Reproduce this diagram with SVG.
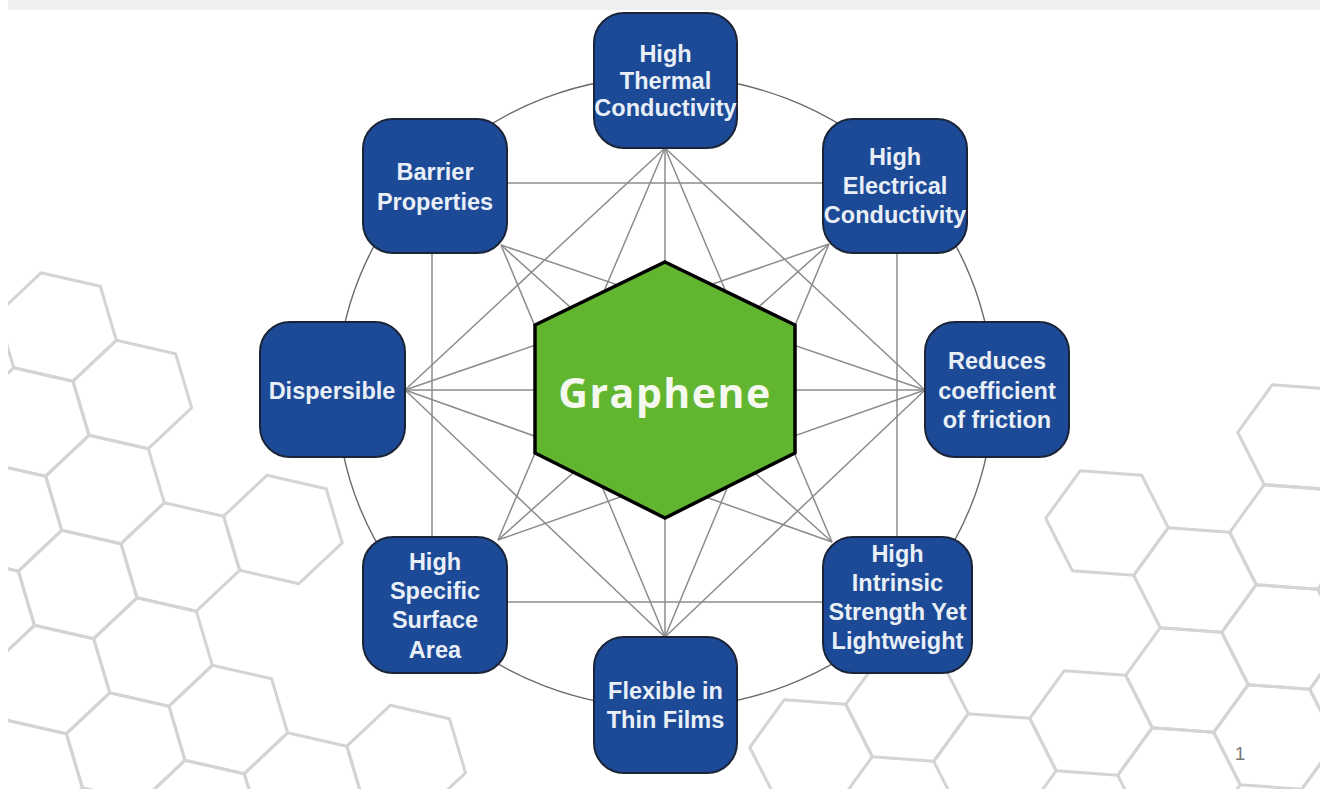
<svg xmlns="http://www.w3.org/2000/svg" xmlns:xlink="http://www.w3.org/1999/xlink" width="1324" height="789" viewBox="0 0 1324 789">
<style>
.bg{fill:none;stroke:#d4d4d4;stroke-width:3;stroke-linejoin:round}
.con{stroke:#8c8c8c;stroke-width:1.5;fill:none}
.ring{stroke:#6a6a6a;stroke-width:1.4;fill:none}
.node{fill:#1c4a96;stroke:#1b2438;stroke-width:2}
.lbl{font-family:"Liberation Sans",Arial,sans-serif;font-weight:700;font-size:23.5px;fill:#e9eff7;text-anchor:middle}
.core{font-family:"Open Sans","DejaVu Sans",sans-serif;font-weight:700;font-size:41px;fill:#f4f8ee;text-anchor:middle;letter-spacing:1.5px}
</style>
<defs>
<path id="hL" d="M16,54.2 L-43.3,40.8 L-59.3,-13.3 L-16,-54.2 L43.3,-40.8 L59.3,13.3 Z"/>
<path id="hR" d="M26.7,52.3 L-34.7,47.7 L-61.3,-4.7 L-26.7,-52.3 L34.7,-47.7 L61.3,4.7 Z"/>
<clipPath id="page"><rect x="8" y="0" width="1312" height="789"/></clipPath>
</defs>
<rect width="1324" height="789" fill="#ffffff"/>
<g id="background-hexagons" class="bg" clip-path="url(#page)">
<use xlink:href="#hL" x="57" y="327"/>
<use xlink:href="#hL" x="132.3" y="394.5"/>
<use xlink:href="#hL" x="29.7" y="422"/>
<use xlink:href="#hL" x="105" y="489.5"/>
<use xlink:href="#hL" x="180.3" y="557"/>
<use xlink:href="#hL" x="282.9" y="529.5"/>
<use xlink:href="#hL" x="77.7" y="584.5"/>
<use xlink:href="#hL" x="153" y="652"/>
<use xlink:href="#hL" x="228.3" y="719.5"/>
<use xlink:href="#hL" x="2.4" y="517"/>
<use xlink:href="#hL" x="50.4" y="679.5"/>
<use xlink:href="#hL" x="-24.9" y="612"/>
<use xlink:href="#hL" x="125.7" y="747"/>
<use xlink:href="#hL" x="23.1" y="774.5"/>
<use xlink:href="#hL" x="201" y="814.5"/>
<use xlink:href="#hL" x="303.6" y="787"/>
<use xlink:href="#hL" x="406.2" y="759.5"/>
<use xlink:href="#hR" x="1107" y="523"/>
<use xlink:href="#hR" x="1195" y="580"/>
<use xlink:href="#hR" x="1187" y="680"/>
<use xlink:href="#hR" x="1091" y="723"/>
<use xlink:href="#hR" x="1291" y="537"/>
<use xlink:href="#hR" x="1299" y="437"/>
<use xlink:href="#hR" x="1283" y="637"/>
<use xlink:href="#hR" x="1275" y="737"/>
<use xlink:href="#hR" x="1179" y="780"/>
<use xlink:href="#hR" x="995" y="766"/>
<use xlink:href="#hR" x="907" y="709"/>
<use xlink:href="#hR" x="811" y="752"/>
<use xlink:href="#hR" x="1371" y="694"/>
<use xlink:href="#hR" x="1363" y="794"/>
</g>
<rect id="top-band" x="8" y="0" width="1312" height="10" fill="#efefef"/>
<g id="connectors">
<ellipse class="ring" cx="665" cy="392" rx="328" ry="316"/>
<line class="con" x1="665" y1="148" x2="925" y2="390"/>
<line class="con" x1="665" y1="148" x2="832" y2="542"/>
<line class="con" x1="665" y1="148" x2="665" y2="637"/>
<line class="con" x1="665" y1="148" x2="498" y2="540"/>
<line class="con" x1="665" y1="148" x2="405" y2="390"/>
<line class="con" x1="897" y1="186" x2="897" y2="605"/>
<line class="con" x1="829" y1="244" x2="665" y2="637"/>
<line class="con" x1="829" y1="244" x2="498" y2="540"/>
<line class="con" x1="829" y1="244" x2="405" y2="390"/>
<line class="con" x1="435" y1="183" x2="895" y2="183"/>
<line class="con" x1="925" y1="390" x2="665" y2="637"/>
<line class="con" x1="925" y1="390" x2="498" y2="540"/>
<line class="con" x1="925" y1="390" x2="405" y2="390"/>
<line class="con" x1="925" y1="390" x2="501" y2="245"/>
<line class="con" x1="435" y1="602" x2="897" y2="602"/>
<line class="con" x1="832" y1="542" x2="405" y2="390"/>
<line class="con" x1="832" y1="542" x2="501" y2="245"/>
<line class="con" x1="665" y1="637" x2="405" y2="390"/>
<line class="con" x1="665" y1="637" x2="501" y2="245"/>
<line class="con" x1="432" y1="186" x2="432" y2="605"/>
</g>
<g id="graphene">
<polygon points="665,262 795,325 795,453 665,518 535,453 535,325" fill="#61b52f" stroke="#000000" stroke-width="3.5" stroke-linejoin="miter"/>
<text class="core" x="665" y="408">Graphene</text>
</g>
<g id="node-thermal">
<rect class="node" x="594" y="13" width="143" height="135" rx="30"/>
<text class="lbl" x="665.5" y="62">High</text>
<text class="lbl" x="665.5" y="89">Thermal</text>
<text class="lbl" x="665.5" y="116">Conductivity</text>
</g>
<g id="node-barrier">
<rect class="node" x="363" y="119" width="144" height="134" rx="30"/>
<text class="lbl" x="435" y="180">Barrier</text>
<text class="lbl" x="435" y="210">Properties</text>
</g>
<g id="node-electrical">
<rect class="node" x="823" y="119" width="144" height="134" rx="30"/>
<text class="lbl" x="895" y="165">High</text>
<text class="lbl" x="895" y="194">Electrical</text>
<text class="lbl" x="895" y="223">Conductivity</text>
</g>
<g id="node-dispersible">
<rect class="node" x="260" y="322" width="145" height="135" rx="30"/>
<text class="lbl" x="332" y="399">Dispersible</text>
</g>
<g id="node-friction">
<rect class="node" x="925" y="322" width="144" height="135" rx="30"/>
<text class="lbl" x="997" y="369">Reduces</text>
<text class="lbl" x="997" y="399">coefficient</text>
<text class="lbl" x="997" y="428">of friction</text>
</g>
<g id="node-surface">
<rect class="node" x="363" y="537" width="144" height="136" rx="30"/>
<text class="lbl" x="435" y="570">High</text>
<text class="lbl" x="435" y="599">Specific</text>
<text class="lbl" x="435" y="628">Surface</text>
<text class="lbl" x="435" y="658">Area</text>
</g>
<g id="node-flexible">
<rect class="node" x="594" y="637" width="143" height="136" rx="30"/>
<text class="lbl" x="665.5" y="699">Flexible in</text>
<text class="lbl" x="665.5" y="728">Thin Films</text>
</g>
<g id="node-strength">
<rect class="node" x="823" y="537" width="149" height="136" rx="30"/>
<text class="lbl" x="897.5" y="562">High</text>
<text class="lbl" x="897.5" y="591">Intrinsic</text>
<text class="lbl" x="897.5" y="620">Strength Yet</text>
<text class="lbl" x="897.5" y="649">Lightweight</text>
</g>
<text id="page-number" x="1240" y="760" font-family="Liberation Sans, Arial, sans-serif" font-size="19" fill="#777777" text-anchor="middle">1</text>
</svg>
